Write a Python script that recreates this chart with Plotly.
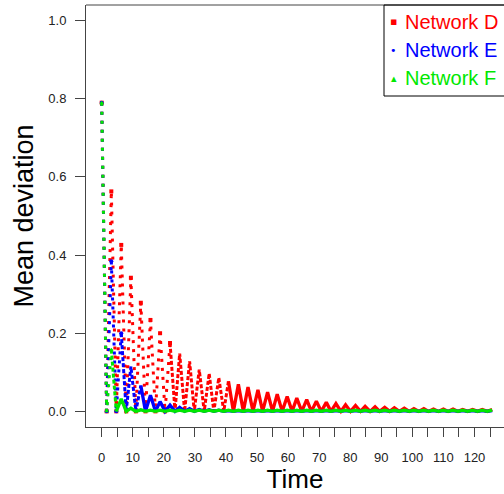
import plotly.graph_objects as go

# ---- data ----
# times of the oscillation maxima and minima
peak_t = [0.0, 3.1, 6.3, 9.4, 12.6, 15.7, 18.8, 22.0, 25.1, 28.3, 31.4, 34.6, 37.7, 40.8,
          44.0, 47.1, 50.3, 53.4, 56.5, 59.7, 62.8, 66.0, 69.1, 72.3, 75.4, 78.5, 81.7,
          84.8, 88.0, 91.1, 94.2, 97.4, 100.5, 103.7, 106.8, 110.0, 113.1, 116.2, 119.4,
          122.5, 125.7]
trough_t = [1.6, 4.7, 7.9, 11.0, 14.1, 17.3, 20.4, 23.6, 26.7, 29.8, 33.0, 36.1, 39.3,
            42.4, 45.6, 48.7, 51.8, 55.0, 58.1, 61.3, 64.4, 67.5, 70.7, 73.8, 77.0, 80.1,
            83.3, 86.4, 89.5, 92.7, 95.8, 99.0, 102.1, 105.2, 108.4, 111.5, 114.7, 117.8,
            121.0, 124.1]
trough_val = 0.0  # all three curves touch zero between maxima

net_d_peaks = [0.79, 0.563, 0.426, 0.342, 0.278, 0.234, 0.200, 0.175, 0.148, 0.128, 0.107,
               0.097, 0.086, 0.077, 0.069, 0.062, 0.055, 0.049, 0.044, 0.038, 0.034, 0.030,
               0.026, 0.023, 0.020, 0.017, 0.015, 0.013, 0.012, 0.010, 0.009, 0.008, 0.007,
               0.007, 0.006, 0.006, 0.006, 0.005, 0.005, 0.005, 0.005]
net_e_peaks = [0.79, 0.384, 0.200, 0.115, 0.066, 0.041, 0.025, 0.016, 0.010, 0.007, 0.005,
               0.004, 0.003, 0.002, 0.002, 0.002, 0.002, 0.002, 0.002, 0.002, 0.002, 0.002,
               0.002, 0.002, 0.002, 0.002, 0.002, 0.002, 0.002, 0.002, 0.002, 0.002, 0.002,
               0.002, 0.002, 0.002, 0.002, 0.002, 0.002, 0.002, 0.002]
net_f_peaks = [0.79, 0.158, 0.032, 0.008, 0.004, 0.003, 0.003, 0.003, 0.003, 0.003, 0.003,
               0.003, 0.003, 0.003, 0.003, 0.003, 0.003, 0.003, 0.003, 0.003, 0.003, 0.003,
               0.003, 0.003, 0.003, 0.003, 0.003, 0.003, 0.003, 0.003, 0.003, 0.003, 0.003,
               0.003, 0.003, 0.003, 0.003, 0.003, 0.003, 0.003, 0.003]

series_names = ["Network D", "Network E", "Network F"]
series_colors = ["#FF0000", "#0000FF", "#00E800"]
series_symbols = ["square", "circle", "triangle-up"]
# early part shows as separate points, then points merge into a solid line
sparse_until = [22.0, 6.3, 3.1]
dense_until = [40.8, 12.6, 4.7]

x_ticks = list(range(0, 130, 5))
y_ticks = [0.0, 0.2, 0.4, 0.6, 0.8, 1.0]

FONT = "Liberation Sans, Arial, sans-serif"


def sequence(peaks):
    ts, vs = [], []
    for i, p in enumerate(peaks):
        ts.append(peak_t[i]); vs.append(p)
        if i < len(trough_t):
            ts.append(trough_t[i]); vs.append(trough_val)
    return ts, vs


fig = go.Figure()
for peaks, name, col, sym, c1, c2 in zip([net_d_peaks, net_e_peaks, net_f_peaks],
                                         series_names, series_colors, series_symbols,
                                         sparse_until, dense_until):
    ts, vs = sequence(peaks)
    k1 = max(i for i, t in enumerate(ts) if t <= c1)
    k2 = max(i for i, t in enumerate(ts) if t <= c2)
    fig.add_trace(go.Scatter(x=ts[:k1 + 1], y=vs[:k1 + 1], mode="lines+markers",
                             line=dict(color=col, width=3, dash="3px,6px"),
                             marker=dict(symbol=sym, size=4, color=col),
                             name=name, showlegend=False, hoverinfo="skip"))
    fig.add_trace(go.Scatter(x=ts[k1:k2 + 1], y=vs[k1:k2 + 1], mode="lines",
                             line=dict(color=col, width=3, dash="4px,2px"),
                             name=name, showlegend=False, hoverinfo="skip"))
    fig.add_trace(go.Scatter(x=ts[k2:], y=vs[k2:], mode="lines",
                             line=dict(color=col, width=3.3),
                             name=name, showlegend=False, hoverinfo="skip"))

# plot geometry (pixels)
L, T, B = 86, 5, 67
W, H = 504, 494
PH = H - T - B
PW = W - L


def px(xp):
    return (xp - L) / PW


def py(yp):
    return (H - B - yp) / PH


shapes = [
    dict(type="line", xref="paper", yref="paper", x0=0, x1=1.05, y0=1, y1=1,
         line=dict(color="#444", width=1)),
    dict(type="rect", xref="paper", yref="paper", x0=px(384), x1=1.05, y0=py(96), y1=1,
         line=dict(color="#000", width=1), fillcolor="rgba(0,0,0,0)"),
]
legend_sym = ["\u25aa", "\u2022", "\u25b4"]
annotations = []
for i, (name, col, s) in enumerate(zip(series_names, series_colors, legend_sym)):
    yy = py(21.7 + i * 28.3)
    annotations.append(dict(xref="paper", yref="paper", x=px(393.5), y=yy, text=s,
                            showarrow=False, xanchor="center", yanchor="middle",
                            font=dict(family="DejaVu Sans", size=11, color=col)))
    annotations.append(dict(xref="paper", yref="paper", x=px(403), y=yy, text=name,
                            showarrow=False, xanchor="left", yanchor="middle",
                            font=dict(family=FONT, size=20, color=col)))

fig.update_layout(
    width=W, height=H, margin=dict(l=L, r=0, t=T, b=B, autoexpand=False),
    paper_bgcolor="white", plot_bgcolor="white", showlegend=False,
    shapes=shapes, annotations=annotations,
    xaxis=dict(range=[-5.05, 129.5], tickvals=x_ticks,
               ticktext=[str(v) if v % 10 == 0 else "" for v in x_ticks],
               ticks="outside", ticklen=9, tickcolor="#444", showline=True,
               linecolor="#444", linewidth=1, showgrid=False, zeroline=False,
               tickfont=dict(family=FONT, size=13, color="#222"), ticklabelstandoff=9,
               title=dict(text="Time", font=dict(family=FONT, size=26, color="#000"),
                          standoff=4)),
    yaxis=dict(range=[-0.04, 1.04], tickvals=y_ticks,
               ticktext=["%.1f" % v for v in y_ticks],
               ticks="outside", ticklen=10, tickcolor="#444", showline=True,
               linecolor="#444", linewidth=1, showgrid=False, zeroline=False,
               tickfont=dict(family=FONT, size=13, color="#222"), ticklabelstandoff=6,
               title=dict(text="Mean deviation", font=dict(family=FONT, size=27, color="#000"),
                          standoff=6)),
)

fig.write_html("out.html", config={"displayModeBar": False},
               post_script="document.body.style.margin='0';document.body.style.padding='0';")
